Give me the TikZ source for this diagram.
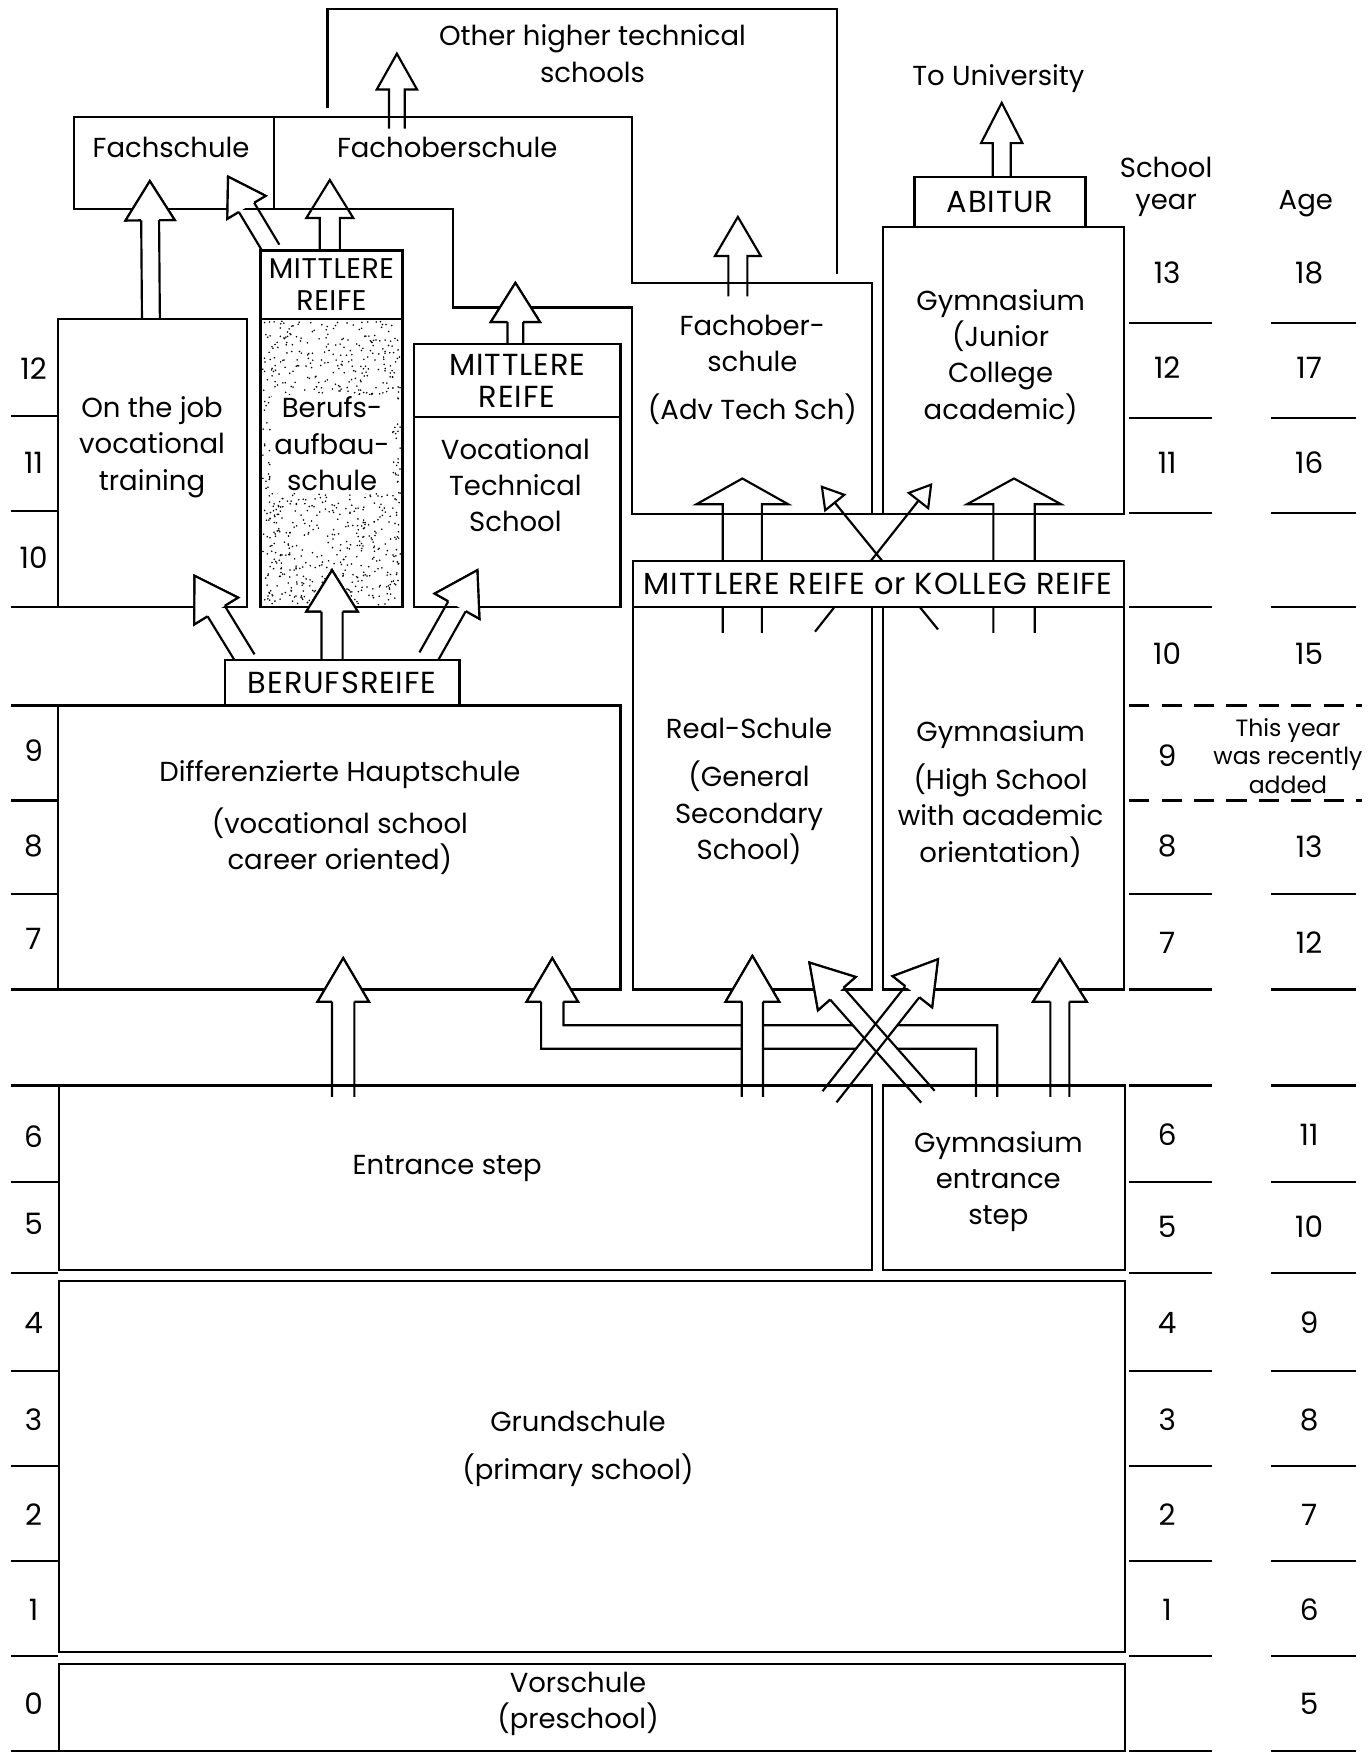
\documentclass[tikz,border=0pt]{standalone}
\usepackage{fontspec}
\setmainfont{Poppins}
\usetikzlibrary{calc,fit,arrows.meta}

\newcommand{\blockarrow}[6]{%
  \coordinate (bah) at ($(#3)!#6!(#2)$);
  \path[#1] ($(#2)!#4!90:(#3)$) -- ($(bah)!#4!90:(#3)$) -- ($(bah)!#5!90:(#3)$) -- (#3)
    -- ($(bah)!#5!-90:(#3)$) -- ($(bah)!#4!-90:(#3)$) -- ($(#2)!#4!-90:(#3)$);
}
\newcommand{\blockhead}[6]{%
  \coordinate (bah) at ($(#3)!#6!(#2)$);
  \path[#1] ($(bah)!#4!90:(#3)$) -- ($(bah)!#5!90:(#3)$) -- (#3)
    -- ($(bah)!#5!-90:(#3)$) -- ($(bah)!#4!-90:(#3)$);
}
\newcommand{\arrowlist}{1/0.16cm/0.44cm/0.70cm, 2/0.16cm/0.40cm/0.64cm, 3/0.18cm/0.42cm/0.68cm,
  4/0.14cm/0.44cm/0.70cm, 5/0.17cm/0.41cm/0.70cm, 6/0.14cm/0.36cm/0.64cm, 7/0.16cm/0.37cm/0.72cm,
  8/0.18cm/0.46cm/0.74cm, 9/0.19cm/0.46cm/0.74cm, 10/0.18cm/0.46cm/0.74cm, 11/0.35cm/0.82cm/0.46cm,
  12/0.37cm/0.84cm/0.46cm, 13/0.20cm/0.46cm/0.78cm, 14/0.19cm/0.48cm/0.82cm, 15/0.17cm/0.48cm/0.76cm,
  16/0.16cm/0.45cm/0.74cm, 17/0.16cm/0.45cm/0.74cm}
\newcommand{\headlist}{1/0.16cm/0.44cm/0.70cm, 2/0.16cm/0.40cm/0.64cm, 4/0.14cm/0.44cm/0.70cm,
  8/0.18cm/0.46cm/0.74cm, 9/0.19cm/0.46cm/0.74cm, 10/0.18cm/0.46cm/0.74cm, 13/0.20cm/0.46cm/0.78cm,
  14/0.19cm/0.48cm/0.82cm, 15/0.17cm/0.48cm/0.76cm, 16/0.16cm/0.45cm/0.74cm, 17/0.16cm/0.45cm/0.74cm}

\begin{document}
\begin{tikzpicture}[x=0.02cm, y=-0.02cm, line width=1.1pt,
  box/.style={draw, inner sep=0pt},
  txt/.style={align=center, inner sep=0pt, font=\fontsize{14}{18.5}\selectfont},
  caps/.style={align=center, inner sep=0pt, font=\fontsize{15.5}{16}\selectfont\addfontfeatures{LetterSpace=3}},
  num/.style={inner sep=0pt, font=\fontsize{15}{15}\selectfont},
  vtip/.style={-{Triangle[open, length=0.42cm, width=0.5cm]}}]
\useasboundingbox (0,0) rectangle (1225,1568);

\coordinate (s1) at (135,285);  \coordinate (t1) at (134,162);
\coordinate (s2) at (243,223);  \coordinate (t2) at (204,158);
\coordinate (s3) at (295,224);  \coordinate (t3) at (295,161);
\coordinate (s4) at (461,308);  \coordinate (t4) at (461,253);
\coordinate (s5) at (660,265);  \coordinate (t5) at (660,194);
\coordinate (s6) at (355,115);  \coordinate (t6) at (355,48);
\coordinate (s7) at (896,158);  \coordinate (t7) at (896,92);
\coordinate (s8) at (220,590);  \coordinate (t8) at (174,515);
\coordinate (s9) at (297,590);  \coordinate (t9) at (297,510);
\coordinate (s10) at (383,588); \coordinate (t10) at (427,510);
\coordinate (s11) at (664,566); \coordinate (t11) at (664,428);
\coordinate (s12) at (907,566); \coordinate (t12) at (907,428);
\coordinate (s13) at (307,981); \coordinate (t13) at (307,857);
\coordinate (s14) at (673,981); \coordinate (t14) at (673,855);
\coordinate (s15) at (948,981); \coordinate (t15) at (948,858);
\coordinate (s16) at (742,981); \coordinate (t16) at (839,858);
\coordinate (s17) at (830,981); \coordinate (t17) at (724,861);
\coordinate (v1) at (729,565);  \coordinate (w1) at (834,432);
\coordinate (v2) at (839,563);  \coordinate (w2) at (734,434);
\coordinate (c0) at (882,981);  \coordinate (c1) at (494,857);

\draw ($(c0)+(-9,0)$) |- ($(c1)+(-10,81)$) -- ($(c1)+(-10,39)$) -- ($(c1)+(-23,39)$) -- (c1)
  -- ($(c1)+(23,39)$) -- ($(c1)+(10,39)$) |- ($(c0)+(10,-64)$) -- ($(c0)+(10,0)$);

\foreach \ai/\aw/\ah/\al in \arrowlist {\blockarrow{fill=white}{s\ai}{t\ai}{\aw}{\ah}{\al}}
\foreach \ai/\aw/\ah/\al in \arrowlist {\blockarrow{draw}{s\ai}{t\ai}{\aw}{\ah}{\al}}
\draw[vtip] (v1) -- (w1);
\draw[vtip] (v2) -- (w2);

\draw (293,97) -- (293,8) -- (749,8) -- (749,245);
\node[box, fit={(66,105) (245,187)}] (fachschule) {};
\draw (245,105) -- (565,105) -- (565,253) -- (780,253) -- (780,460);
\draw (245,187) -- (405,187) -- (405,275) -- (565,275) -- (565,460) -- (790,460);
\node[box, fit={(818,158) (971,203)}] (abitur) {};
\node[box, fit={(790,203) (1005,460)}] (gymjc) {};
\node[box, fill=white, fit={(566,502) (1005,543)}] (mrk) {};
\node[box, fit={(566,543) (780,885)}] (real) {};
\node[box, fit={(790,543) (1005,885)}] (gym) {};
\node[box, fit={(52,285) (221,543)}] (onjob) {};
\node[box, fill=white, fit={(233,224) (360,285)}] (mr1) {};
\node[box, fit={(233,285) (360,543)}] (bau) {};
\pgfmathsetseed{42}
\foreach \k in {1,...,1000} \fill ({235+123*rnd},{287+254*rnd}) circle (0.45pt);
\node[box, fit={(370,308) (555,373)}] (mr2) {};
\node[box, fit={(370,373) (555,543)}] (vts) {};
\node[box, fill=white, fit={(201,590) (411,631)}] (beruf) {};
\node[box, fit={(52,631) (555,885)}] (haupt) {};
\node[box, fit={(53,971) (780,1136)}] (entr) {};
\node[box, fit={(790,971) (1006,1136)}] (gent) {};
\node[box, fit={(53,1146) (1006,1478)}] (grund) {};
\node[box, fit={(53,1488) (1006,1566)}] (vor) {};

\foreach \y in {372,457,543,631,716,800,885,971,1057,1139,1226,1311,1396,1481,1566}
  \draw (10,\y) -- (52,\y);
\foreach \y in {289,374,459,543,800,885,971,1057,1139,1226,1311,1396,1481,1566}
  {\draw (1010,\y) -- (1084,\y); \draw (1137,\y) -- (1213,\y);}
\foreach \y in {631,716}
  \draw[dash pattern=on 0.36cm off 0.22cm] (1010,\y) -- (1218,\y);

\node[txt] (othT) at (530,48) {Other higher technical\\schools};
\node[txt] (uniT) at (893,70) {To University};
\node[txt] (fachT) at (153,132) {Fachschule};
\node[txt] (fobT) at (400,132) {Fachoberschule};
\node[txt] (syT) at (1043,167) {School\\[-2pt]year};
\node[txt] (ageT) at (1168,182) {Age};
\node[caps] (abiT) at (abitur) {ABITUR};
\node[caps, font=\fontsize{14.5}{16}\selectfont\addfontfeatures{LetterSpace=2}] (mr1T) at (mr1) {MITTLERE\\REIFE};
\node[caps] (mr2T) at (mr2) {MITTLERE\\REIFE};
\node[txt] (fob2T) at (673,331) {Fachober-\\schule\\[6pt](Adv Tech Sch)};
\node[txt] (gjT) at (895,319) {Gymnasium\\(Junior\\College\\academic)};
\node[txt] (ojT) at (136,400) {On the job\\vocational\\training};
\node[txt, fill=white, inner sep=1pt] (bauT) at (297,397) {Berufs-\\aufbau-\\schule};
\node[txt] (vtsT) at (461,434) {Vocational\\Technical\\School};
\node[caps] (mrkT) at (mrk) {MITTLERE REIFE or KOLLEG REIFE};
\node[caps] (berT) at (beruf) {BERUFSREIFE};
\node[txt] (hsT) at (304,731) {Differenzierte Hauptschule\\[8pt](vocational school\\career oriented)};
\node[txt] (rsT) at (670,708) {Real-Schule\\[6pt](General\\Secondary\\School)};
\node[txt] (gyT) at (895,710) {Gymnasium\\[6pt](High School\\with academic\\orientation)};
\node[txt] (esT) at (400,1045) {Entrance step};
\node[txt] (gesT) at (893,1057) {Gymnasium\\entrance\\step};
\node[txt] (gsT) at (517,1296) {Grundschule\\[6pt](primary school)};
\node[txt] (vsT) at (517,1524) {Vorschule\\(preschool)};
\node[txt, font=\fontsize{12}{14.5}\selectfont] (addT) at (1152,676) {This year\\was recently\\added};

\foreach \n/\y in {12/330,11/414,10/499,9/671,8/757,7/840,6/1017,5/1095,4/1183,3/1270,2/1355,1/1440,0/1524}
  \node[num] (l\n) at (30,\y) {\n};
\foreach \n/\y in {13/244,12/329,11/414,10/585,9/676,8/757,7/843,6/1015,5/1097,4/1183,3/1270,2/1355,1/1440}
  \node[num] (y\n) at (1044,\y) {\n};
\foreach \n/\y in {18/244,17/329,16/414,15/585,13/757,12/843,11/1015,10/1097,9/1183,8/1270,7/1355,6/1440,5/1524}
  \node[num] (a\n) at (1171,\y) {\n};

\foreach \ai/\aw/\ah/\al in \headlist {\blockhead{fill=white, draw}{s\ai}{t\ai}{\aw}{\ah}{\al}}
\path[fill=white, draw] ($(c1)+(-10,39)$) -- ($(c1)+(-23,39)$) -- (c1) -- ($(c1)+(23,39)$) -- ($(c1)+(10,39)$);
\end{tikzpicture}
\end{document}
